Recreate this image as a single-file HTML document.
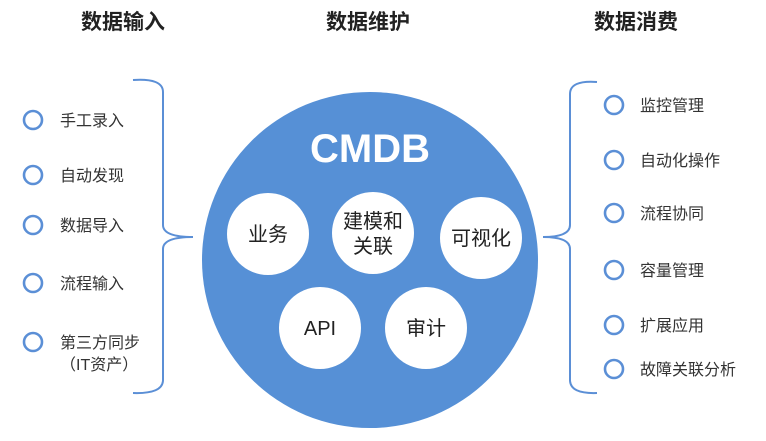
<!DOCTYPE html>
<html><head><meta charset="utf-8"><style>
body{margin:0;background:#fff;}
svg text{font-family:"Liberation Sans","Noto Sans CJK SC",sans-serif;}
</style></head><body>
<svg width="766" height="436" viewBox="0 0 766 436" xmlns="http://www.w3.org/2000/svg">
<g font-weight="bold" font-size="21" fill="#222" text-anchor="middle">
<text x="123" y="29">数据输入</text>
<text x="368" y="29">数据维护</text>
<text x="636" y="29">数据消费</text>
</g>
<g fill="none" stroke="#5b8fd6" stroke-width="2">
<path d="M133 80 Q163 78 163 92 L163 225 Q163 237 193 237 Q163 237 163 249 L163 380 Q163 394 133 393"/>
<path d="M597 82 Q570 80 570 94 L570 225 Q570 237 543 237 Q570 237 570 249 L570 380 Q570 394 597 393"/>
</g>
<g fill="none" stroke="#5b8fd6" stroke-width="2.6">
<circle cx="33" cy="120" r="9"/><circle cx="33" cy="175" r="9"/><circle cx="33" cy="225" r="9"/><circle cx="33" cy="283" r="9"/><circle cx="33" cy="342" r="9"/>
<circle cx="614" cy="105" r="9"/><circle cx="614" cy="160" r="9"/><circle cx="614" cy="213" r="9"/><circle cx="614" cy="270" r="9"/><circle cx="614" cy="325" r="9"/><circle cx="614" cy="369" r="9"/>
</g>
<g font-size="16" fill="#333">
<text x="60" y="126">手工录入</text>
<text x="60" y="181">自动发现</text>
<text x="60" y="231">数据导入</text>
<text x="60" y="289">流程输入</text>
<text x="60" y="348">第三方同步</text>
<text x="60" y="370">（IT资产）</text>
<text x="640" y="111">监控管理</text>
<text x="640" y="166">自动化操作</text>
<text x="640" y="219">流程协同</text>
<text x="640" y="276">容量管理</text>
<text x="640" y="331">扩展应用</text>
<text x="640" y="375">故障关联分析</text>
</g>
<circle cx="370" cy="260" r="168" fill="#5690d6"/>
<text x="370" y="162" text-anchor="middle" font-size="40" font-weight="bold" fill="#fff">CMDB</text>
<g fill="#fff">
<circle cx="268" cy="234" r="41"/><circle cx="373" cy="233" r="41"/><circle cx="481" cy="238" r="41"/>
<circle cx="320" cy="328" r="41"/><circle cx="426" cy="328" r="41"/>
</g>
<g font-size="20" fill="#222" text-anchor="middle">
<text x="268" y="241">业务</text>
<text x="373" y="228">建模和</text>
<text x="373" y="253">关联</text>
<text x="481" y="245">可视化</text>
<text x="320" y="335">API</text>
<text x="426" y="335">审计</text>
</g>
</svg>
</body></html>
